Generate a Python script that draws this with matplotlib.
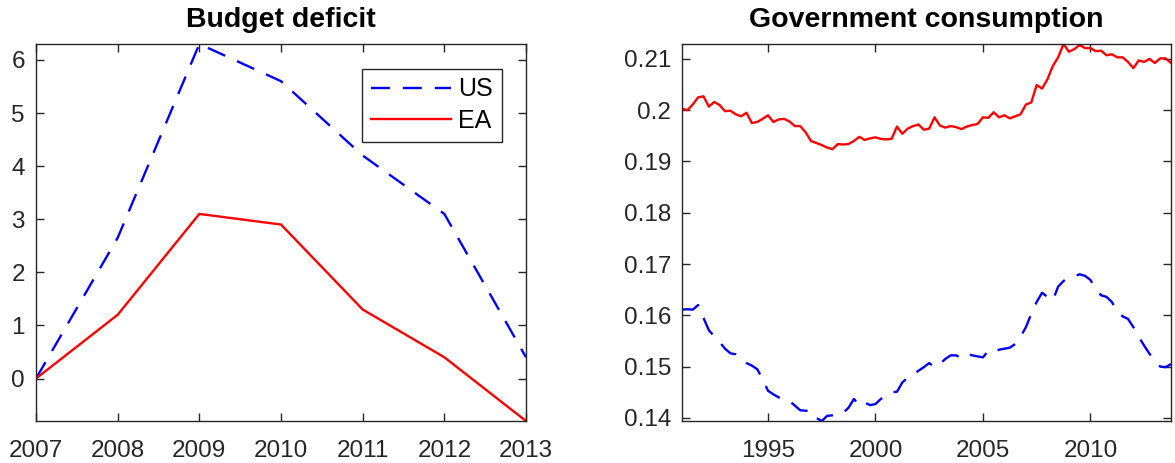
import matplotlib.pyplot as plt
import numpy as np
from matplotlib.ticker import FormatStrFormatter

plt.rcParams['font.family'] = ['Liberation Sans', 'DejaVu Sans']

# Budget deficit (change since 2007)
years = [2007, 2008, 2009, 2010, 2011, 2012, 2013]
us_deficit = [0.0, 2.65, 6.3, 5.6, 4.2, 3.1, 0.4]
ea_deficit = [0.0, 1.2, 3.1, 2.9, 1.3, 0.4, -0.8]

# Government consumption share, quarterly 1991Q1 - 2013Q4
ea_gov = [
    0.2003, 0.2000, 0.2011, 0.2025,  # 1991
    0.2027, 0.2007, 0.2016, 0.2010,  # 1992
    0.1998, 0.1999, 0.1992, 0.1988,  # 1993
    0.1995, 0.1975, 0.1977, 0.1983,  # 1994
    0.1990, 0.1977, 0.1982, 0.1983,  # 1995
    0.1978, 0.1969, 0.1969, 0.1957,  # 1996
    0.1940, 0.1936, 0.1932, 0.1927,  # 1997
    0.1924, 0.1934, 0.1933, 0.1934,  # 1998
    0.1940, 0.1948, 0.1942, 0.1945,  # 1999
    0.1947, 0.1944, 0.1943, 0.1944,  # 2000
    0.1968, 0.1954, 0.1964, 0.1969,  # 2001
    0.1972, 0.1962, 0.1964, 0.1986,  # 2002
    0.1970, 0.1966, 0.1969, 0.1967,  # 2003
    0.1963, 0.1968, 0.1971, 0.1973,  # 2004
    0.1986, 0.1985, 0.1996, 0.1986,  # 2005
    0.1990, 0.1984, 0.1988, 0.1992,  # 2006
    0.2011, 0.2015, 0.2049, 0.2042,  # 2007
    0.2060, 0.2086, 0.2103, 0.2129,  # 2008
    0.2114, 0.2119, 0.2127, 0.2121,  # 2009
    0.2121, 0.2115, 0.2116, 0.2107,  # 2010
    0.2109, 0.2103, 0.2103, 0.2094,  # 2011
    0.2082, 0.2097, 0.2094, 0.2100,  # 2012
    0.2092, 0.2101, 0.2101, 0.2092,  # 2013
]
us_gov = [
    0.1611, 0.1612, 0.1611, 0.1620,  # 1991
    0.1595, 0.1571, 0.1559, 0.1548,  # 1992
    0.1535, 0.1526, 0.1524, 0.1515,  # 1993
    0.1507, 0.1502, 0.1495, 0.1476,  # 1994
    0.1453, 0.1446, 0.1440, 0.1435,  # 1995
    0.1433, 0.1424, 0.1415, 0.1414,  # 1996
    0.1414, 0.1400, 0.1394, 0.1404,  # 1997
    0.1405, 0.1405, 0.1410, 0.1420,  # 1998
    0.1437, 0.1424, 0.1430, 0.1425,  # 1999
    0.1427, 0.1437, 0.1443, 0.1450,  # 2000
    0.1451, 0.1469, 0.1479, 0.1484,  # 2001
    0.1492, 0.1499, 0.1507, 0.1499,  # 2002
    0.1505, 0.1515, 0.1522, 0.1522,  # 2003
    0.1517, 0.1525, 0.1522, 0.1520,  # 2004
    0.1518, 0.1531, 0.1528, 0.1533,  # 2005
    0.1535, 0.1537, 0.1544, 0.1558,  # 2006
    0.1577, 0.1603, 0.1626, 0.1644,  # 2007
    0.1636, 0.1629, 0.1656, 0.1667,  # 2008
    0.1674, 0.1676, 0.1680, 0.1677,  # 2009
    0.1669, 0.1652, 0.1639, 0.1636,  # 2010
    0.1626, 0.1607, 0.1598, 0.1593,  # 2011
    0.1577, 0.1558, 0.1541, 0.1525,  # 2012
    0.1512, 0.1500, 0.1499, 0.1505,  # 2013
]
quarters = 1991 + np.arange(len(ea_gov)) / 4

dark = '#262626'
dash = (0, (8, 5.5))
fig = plt.figure(figsize=(11.75, 4.63), dpi=100)
ax1 = fig.add_axes([36 / 1175, 42 / 463, 490 / 1175, 377 / 463])
ax2 = fig.add_axes([682 / 1175, 42 / 463, 489 / 1175, 377 / 463])

ax1.plot(years, us_deficit, color='blue', linestyle=dash, linewidth=1.7, label='US')
ax1.plot(years, ea_deficit, color='red', linewidth=1.7, label='EA')
ax1.set_xlim(2007, 2013)
ax1.set_ylim(min(ea_deficit), max(us_deficit))
ax1.set_xticks(years)
ax1.set_yticks(range(0, 7))
ax1.set_title('Budget deficit', fontsize=20.5, fontweight='bold', pad=12)
leg = ax1.legend(loc='upper right', bbox_to_anchor=(0.95, 0.935), fontsize=18,
                 fancybox=False, framealpha=1, edgecolor=dark, handlelength=3.2,
                 borderpad=0.35, labelspacing=0.3, handletextpad=0.3,
                 borderaxespad=0)
leg.get_frame().set_linewidth(1.0)

ax2.plot(quarters, ea_gov, color='red', linewidth=1.7)
ax2.plot(quarters, us_gov, color='blue', linestyle=dash, linewidth=1.7)
ax2.set_xlim(quarters[0], quarters[-1])
ax2.set_ylim(min(us_gov), max(ea_gov))
ax2.set_xticks([1995, 2000, 2005, 2010])
ax2.set_yticks([0.14, 0.15, 0.16, 0.17, 0.18, 0.19, 0.2, 0.21])
ax2.yaxis.set_major_formatter(FormatStrFormatter('%g'))
ax2.set_title('Government consumption', fontsize=20.5, fontweight='bold', pad=12)

for ax in (ax1, ax2):
    ax.tick_params(direction='in', top=True, right=True, length=6, width=1,
                   labelsize=17.5, colors=dark)
    ax.tick_params(axis='x', pad=14)
    ax.tick_params(axis='y', pad=8)
    for s in ax.spines.values():
        s.set_color(dark)
        s.set_linewidth(1.0)

fig.savefig('out.png', dpi=100)
